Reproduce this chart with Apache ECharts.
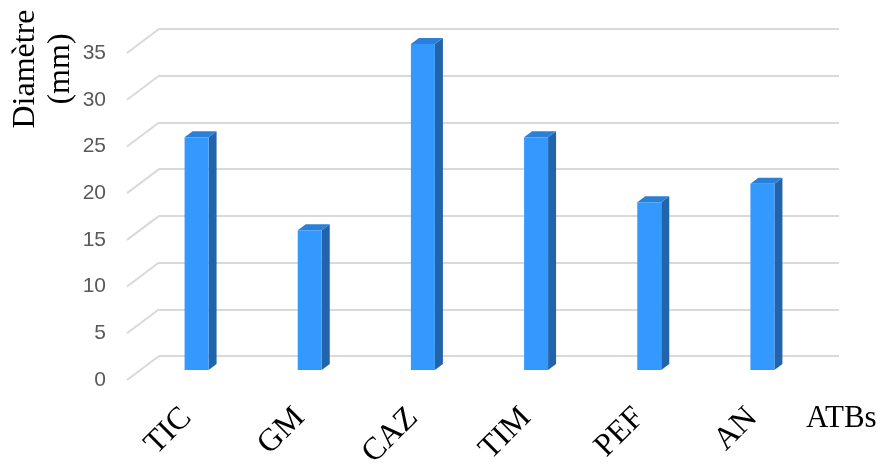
<!DOCTYPE html>
<html>
<head>
<meta charset="utf-8">
<script src="https://cdn.jsdelivr.net/npm/echarts@6/dist/echarts.min.js"></script>
<style>html,body{margin:0;padding:0;background:#fff}#c{width:880px;height:465px}</style>
</head>
<body>
<div id="c"></div>
<script>
const categories = ['TIC', 'GM', 'CAZ', 'TIM', 'PEF', 'AN'];
const diametre = [25, 15, 35, 25, 18, 20];
const yTicks = [0, 5, 10, 15, 20, 25, 30, 35];

const chart = echarts.init(document.getElementById('c'), null, {renderer: 'canvas'});
const depthX = -32, depthY = 24;   // offset from back wall to front edge of gridlines
const faceW = 24, sideX = 8, sideY = -6;

const option = {
  animation: false,
  backgroundColor: '#ffffff',
  title: [{
    text: 'ATBs', left: 801, top: 398,
    textStyle: {fontFamily: 'Liberation Serif', fontSize: 31, fontWeight: 'normal', color: '#000'}
  }],
  graphic: [{
    type: 'text', x: 43, y: 69, rotation: Math.PI / 2,
    style: {text: 'Diamètre\n(mm)', fontFamily: 'Liberation Serif', fontSize: 32, lineHeight: 35,
      fill: '#000', align: 'center', verticalAlign: 'middle'}
  }],
  grid: [
    {left: 159, right: 41, top: 29, bottom: 109, outerBoundsMode: 'none'},
    {left: 140, right: 61, top: 44, bottom: 95, outerBoundsMode: 'none'},
    {left: 127, right: 41, top: 53, bottom: 85, outerBoundsMode: 'none'}
  ],
  xAxis: [
    {gridIndex: 0, type: 'value', min: 0, max: 1, show: false},
    {gridIndex: 1, type: 'category', data: categories,
     axisLine: {show: false}, axisTick: {show: false},
     axisLabel: {rotate: 45, margin: 33, padding: [0, 14, 0, 0], fontFamily: 'Liberation Serif', fontSize: 32, color: '#000'}},
    {gridIndex: 2, type: 'value', min: 0, max: 1, show: false}
  ],
  yAxis: [
    {gridIndex: 0, type: 'value', min: 0, max: 35, interval: 5,
     axisLine: {show: false}, axisTick: {show: false}, axisLabel: {show: false},
     splitLine: {show: true, lineStyle: {color: '#d9d9d9', width: 2}}},
    {gridIndex: 1, type: 'value', min: 0, max: 35, interval: 5, show: false, splitLine: {show: false}},
    {gridIndex: 2, type: 'value', min: 0, max: 35, interval: 5,
     axisLine: {show: false}, axisTick: {show: false}, splitLine: {show: false},
     axisLabel: {margin: 21, fontFamily: 'Liberation Sans', fontSize: 21, color: '#595959'}}
  ],
  series: [
    {
      type: 'custom', xAxisIndex: 0, yAxisIndex: 0, silent: true,
      data: yTicks.map(v => [0, v]),
      renderItem: function (params, api) {
        const p = api.coord([0, api.value(1)]);
        return {type: 'line', shape: {x1: p[0], y1: p[1], x2: p[0] + depthX, y2: p[1] + depthY},
          style: {stroke: '#d9d9d9', lineWidth: 2}};
      }
    },
    {
      type: 'custom', xAxisIndex: 1, yAxisIndex: 1,
      data: diametre.map((v, i) => [i, v]),
      renderItem: function (params, api) {
        const base = api.coord([api.value(0), 0]);
        const top = api.coord([api.value(0), api.value(1)]);
        const x0 = base[0] - faceW / 2, x1 = base[0] + faceW / 2;
        const yb = base[1], yt = top[1];
        return {type: 'group', children: [
          {type: 'polygon', shape: {points: [[x1, yt], [x1 + sideX, yt + sideY], [x1 + sideX, yb + sideY], [x1, yb]]},
            style: {fill: '#2264AB'}},
          {type: 'polygon', shape: {points: [[x0, yt], [x0 + sideX, yt + sideY], [x1 + sideX, yt + sideY], [x1, yt]]},
            style: {fill: '#2B7FD6'}},
          {type: 'rect', shape: {x: x0, y: yt, width: faceW, height: yb - yt},
            style: {fill: '#3399FF'}}
        ]};
      }
    }
  ]
};
chart.setOption(option);
</script>
</body>
</html>
